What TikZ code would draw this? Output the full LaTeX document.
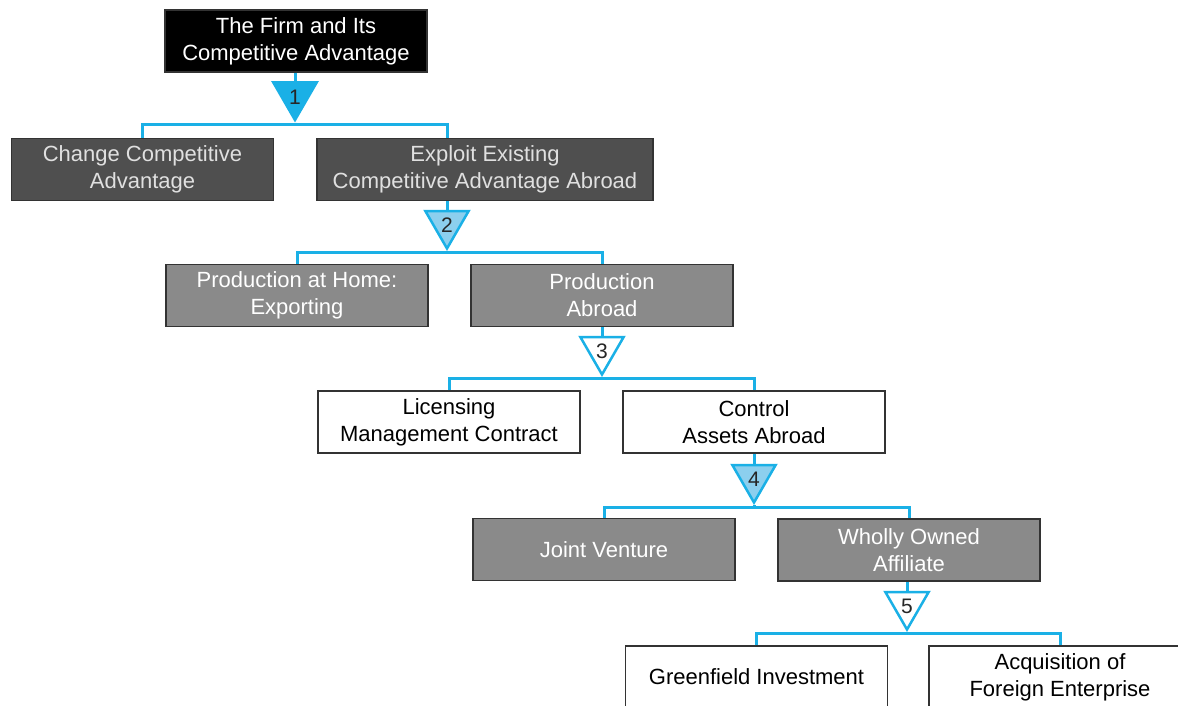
\documentclass[tikz,border=0pt]{standalone}
\usepackage{fontspec}
\setmainfont{Liberation Sans}
\usetikzlibrary{shapes.geometric}
\definecolor{cy}{HTML}{1AB0E6}
\definecolor{lb}{HTML}{8CCFEE}
\definecolor{dg}{HTML}{4F4F4F}
\definecolor{mg}{HTML}{8A8A8A}
\begin{document}
\begin{tikzpicture}[x=1pt,y=-1pt,
  box/.style={draw=black!80, line width=1.2pt, minimum width=262pt, minimum height=62pt,
    align=center, font=\fontsize{22}{27}\selectfont, inner sep=0pt},
  blackbox/.style={box, fill=black, text=white},
  darkbox/.style={box, fill=dg, text=black!12},
  graybox/.style={box, fill=mg, text=white},
  whitebox/.style={box, fill=white, text=black},
  tri/.style={regular polygon, regular polygon sides=3, shape border rotate=180,
    draw=cy, line width=2.5pt, minimum size=50pt, inner sep=0pt, text=black!85},
  digit/.style={font=\fontsize{21}{21}\selectfont, text=black!85, inner sep=0pt},
  link/.style={draw=cy, line width=3pt}]
\clip (0,0) rectangle (1178,706);
\fill[white] (0,0) rectangle (1178,706);

% boxes
\node[blackbox] (top) at (296,41) {The Firm and Its\\Competitive Advantage};
\node[darkbox] (c1) at (142.5,169.5) {Change Competitive\\Advantage};
\node[darkbox, minimum width=336pt] (c2) at (485,169.5) {Exploit Existing\\Competitive Advantage Abroad};
\node[graybox] (d1) at (297,295.5) {Production at Home:\\Exporting};
\node[graybox] (d2) at (602,295.5) {Production\\Abroad};
\node[whitebox] (e1) at (449,422) {Licensing\\Management Contract};
\node[whitebox] (e2) at (754,422) {Control\\Assets Abroad};
\node[graybox] (f1) at (604,549.5) {Joint Venture};
\node[graybox] (f2) at (909,550) {Wholly Owned\\Affiliate};
\node[whitebox] (g1) at (756.5,677) {Greenfield Investment};
\node[whitebox] (g2) at (1060,677) {Acquisition of\\Foreign Enterprise};

% triangles
\node[tri, fill=cy] (t1) at (295,95) {};
\node[tri, fill=lb] (t2) at (447,223.5) {};
\node[tri, fill=white] (t3) at (602,349.5) {};
\node[tri, fill=lb] (t4) at (754,477.5) {};
\node[tri, fill=white] (t5) at (907,604.5) {};
\node[digit] (n1) at ([yshift=-2pt]t1.center) {1};
\node[digit] (n2) at ([yshift=-2pt]t2.center) {2};
\node[digit] (n3) at ([yshift=-2pt]t3.center) {3};
\node[digit] (n4) at ([yshift=-2pt]t4.center) {4};
\node[digit] (n5) at ([yshift=-2pt]t5.center) {5};

% branch points
\coordinate (b1) at (295,125);
\coordinate (b2) at (447,252);
\coordinate (b3) at (602,378);
\coordinate (b4) at (754,507);
\coordinate (b5) at (907,633);

% connectors
\draw[link] (top.south -| t1) -- (t1.north);
\draw[link] (t1.south) -- (b1);
\draw[link] (c1.north) |- (b1) -| (t2 |- c2.north);

\draw[link] (t2 |- c2.south) -- (t2.north);
\draw[link] (t2.south) -- (b2);
\draw[link] (d1.north) |- (b2) -| (d2.north);

\draw[link] (d2.south -| t3) -- (t3.north);
\draw[link] (t3.south) -- (b3);
\draw[link] (e1.north) |- (b3) -| (e2.north);

\draw[link] (e2.south -| t4) -- (t4.north);
\draw[link] (t4.south) -- (b4);
\draw[link] (f1.north) |- (b4) -| (f2.north);

\draw[link] (f2.south -| t5) -- (t5.north);
\draw[link] (t5.south) -- (b5);
\draw[link] (g1.north) |- (b5) -| (g2.north);
\end{tikzpicture}
\end{document}
